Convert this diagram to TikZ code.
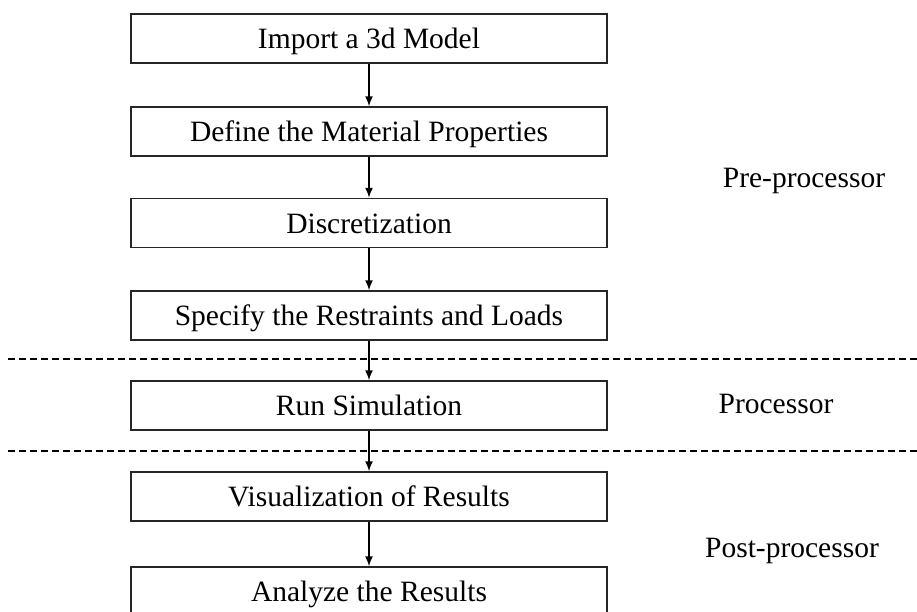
\documentclass[tikz,border=0pt]{standalone}
\usepackage{fontspec}
\setmainfont{Liberation Serif}
\usetikzlibrary{arrows.meta}
\begin{document}
\begin{tikzpicture}[x=1pt,y=1pt,
  stepbox/.style={draw=black!85,line width=1.5pt,minimum width=476pt,minimum height=49pt,
    inner sep=0pt,text height=20pt,text depth=0pt,font=\fontsize{29.5}{35}\selectfont},
  lbl/.style={anchor=base,inner sep=0pt,font=\fontsize{29.5}{35}\selectfont},
  flow/.style={line width=1.5pt,-{Latex[length=10pt,width=8pt]}},
  sep/.style={line width=1.5pt,dash pattern=on 7pt off 4pt}]
\useasboundingbox (0,0) rectangle (917,-611);
\clip (0,0) rectangle (917,-611);
\node[stepbox] (b1) at (369,-38.5) {Import a 3d Model};
\node[stepbox] (b2) at (369,-131.5) {Define the Material Properties};
\node[stepbox] (b3) at (369,-223) {Discretization};
\node[stepbox] (b4) at (369,-315.5) {Specify the Restraints and Loads};
\node[stepbox] (b5) at (369,-405.5) {Run Simulation};
\node[stepbox] (b6) at (369,-496.5) {Visualization of Results};
\node[stepbox] (b7) at (369,-591.5) {Analyze the Results};
\draw[flow] (b1) -- (b2);
\draw[flow] (b2) -- (b3);
\draw[flow] (b3) -- (b4);
\draw[flow] (b4) -- (b5);
\draw[flow] (b5) -- (b6);
\draw[flow] (b6) -- (b7);
\coordinate (d1l) at (8,-359);
\coordinate (d1r) at (917,-359);
\coordinate (d2l) at (8,-451);
\coordinate (d2r) at (917,-451);
\draw[sep] (d1l) -- (d1r);
\draw[sep] (d2l) -- (d2r);
\node[lbl] (pre) at (804,-187) {Pre-processor};
\node[lbl] (proc) at (776,-413) {Processor};
\node[lbl] (post) at (792,-557) {Post-processor};
\end{tikzpicture}
\end{document}
